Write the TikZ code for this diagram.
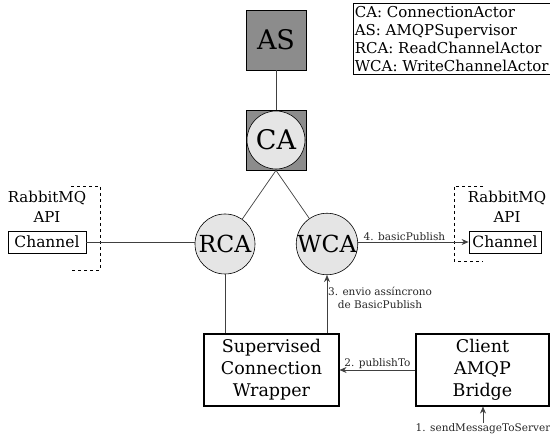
\documentclass[tikz,border=0pt]{standalone}
\usepackage{fontspec}
\setmainfont{DejaVu Serif}
\usetikzlibrary{arrows.meta}
\begin{document}
\begin{tikzpicture}[x=1pt,y=-1pt,
  actorbox/.style={draw=black, fill=black!45, minimum size=60pt, inner sep=0pt, line width=0.8pt},
  actor/.style={circle, draw=black, fill=black!10, inner sep=0pt, line width=0.6pt},
  chanbox/.style={draw=black, minimum height=22pt, inner sep=0pt, line width=0.8pt, font=\fontsize{15.5}{17}\selectfont},
  bigbox/.style={draw=black, minimum height=72pt, inner sep=0pt, line width=1.1pt, align=center, font=\fontsize{17.5}{22}\selectfont},
  apitext/.style={align=center, inner sep=0pt, font=\fontsize{15}{19.5}\selectfont},
  conn/.style={draw=black!75, line width=0.7pt},
  msg/.style={conn, -{Stealth[length=7pt,width=6pt]}},
  msglabel/.style={inner sep=1pt, font=\fontsize{10.5}{13}\selectfont, text=black!85},
  bracket/.style={draw=black, dashed, line width=0.6pt}
]
\useasboundingbox (0,0) rectangle (550,438);

% supervisor and connection actor
\node[actorbox, font=\fontsize{27}{30}\selectfont] (AS) at (276,40) {AS};
\node[actorbox] (CAbox) at (276,140) {};
\node[actor, minimum size=58pt, font=\fontsize{27}{30}\selectfont] (CA) at (276,140) {CA};

% channel actors
\node[actor, minimum size=60pt, font=\fontsize{23.5}{26}\selectfont] (RCA) at (225,244) {RCA};
\node[actor, minimum size=60pt, font=\fontsize{23.5}{26}\selectfont] (WCA) at (327,244) {WCA};

\draw[conn] (AS.south) -- (CAbox.north);
\draw[conn] (CAbox.south) -- (RCA);
\draw[conn] (CAbox.south) -- (WCA);

% RabbitMQ API, left side
\node[apitext] (apiL) at (47,207) {RabbitMQ\\API};
\node[chanbox, minimum width=78pt] (chL) at (47,242) {Channel};
\coordinate (bl1) at (71,186);
\coordinate (bl2) at (100,186);
\coordinate (bl3) at (100,270);
\coordinate (bl4) at (71,270);
\draw[bracket] (bl1) -- (bl2) -- (bl3) -- (bl4);

% RabbitMQ API, right side
\node[apitext] (apiR) at (507,207) {RabbitMQ\\API};
\node[chanbox, minimum width=72pt] (chR) at (505,242) {Channel};
\coordinate (br1) at (483,186);
\coordinate (br2) at (454,186);
\coordinate (br3) at (454,261);
\coordinate (br4) at (483,261);
\draw[bracket] (br1) -- (br2) -- (br3) -- (br4);

\draw[conn] (chL.east) -- (chL.east -| RCA.west);
\draw[msg] (WCA.east |- chR.west) -- node[msglabel, above, pos=0.42] {4. basicPublish} (chR.west);

% wrapper and bridge
\node[bigbox, minimum width=135pt] (SCW) at (271.5,370) {Supervised\\Connection\\Wrapper};
\node[bigbox, minimum width=133pt] (CAB) at (482.5,370) {Client\\AMQP\\Bridge};

\draw[conn] (RCA.south) -- (RCA.south |- SCW.north);
\draw[msg] (WCA.south |- SCW.north) -- (WCA.south);
\node[msglabel, align=center] (l3) at (380,298) {3. envio assíncrono\\de BasicPublish};
\draw[msg] (CAB.west) -- node[msglabel, above] {2. publishTo} (SCW.east);

\node[msglabel] (l1) at (483,429) {1. sendMessageToServer};
\draw[msg] (l1.north) -- (l1.north |- CAB.south);

% legend
\node[draw=black, line width=0.6pt, anchor=north west, align=left, inner xsep=1.5pt, inner ysep=3pt,
      font=\fontsize{15}{18}\selectfont] (legend) at (353,3)
  {CA: ConnectionActor\\AS: AMQPSupervisor\\RCA: ReadChannelActor\\WCA: WriteChannelActor};
\end{tikzpicture}
\end{document}
